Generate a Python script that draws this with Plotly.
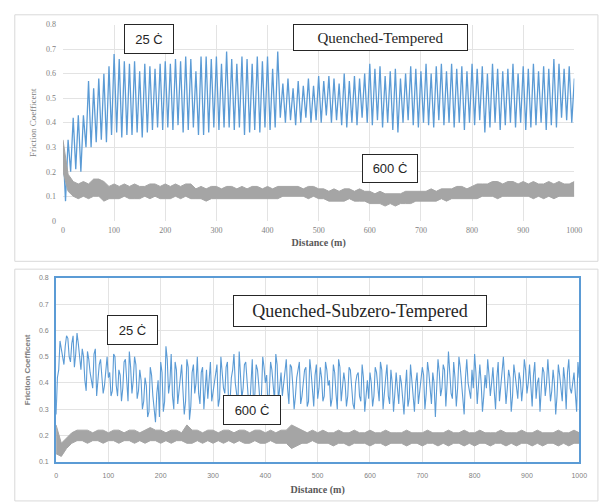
import plotly.graph_objects as go

W, H = 602, 502

# ---------------- data ----------------
# Quenched-Tempered, 25 C (values every 5 m, 0..1000)
qt25 = [0.30, 0.08, 0.33, 0.20, 0.42, 0.21, 0.43, 0.20, 0.43, 0.30,
        0.57, 0.30, 0.54, 0.32, 0.58, 0.33, 0.60, 0.32, 0.63, 0.35,
        0.68, 0.36, 0.66, 0.34, 0.65, 0.35, 0.64, 0.35, 0.65, 0.36,
        0.61, 0.34, 0.64, 0.36, 0.63, 0.37, 0.62, 0.38, 0.64, 0.37,
        0.65, 0.38, 0.64, 0.37, 0.66, 0.39, 0.65, 0.36, 0.67, 0.37,
        0.66, 0.38, 0.61, 0.35, 0.67, 0.35, 0.67, 0.36, 0.66, 0.38,
        0.67, 0.37, 0.64, 0.38, 0.69, 0.38, 0.66, 0.37, 0.64, 0.38,
        0.67, 0.35, 0.66, 0.36, 0.64, 0.37, 0.67, 0.36, 0.65, 0.38,
        0.67, 0.37, 0.62, 0.38, 0.69, 0.42, 0.56, 0.40, 0.58, 0.41,
        0.54, 0.39, 0.57, 0.40, 0.55, 0.42, 0.58, 0.40, 0.55, 0.41,
        0.59, 0.40, 0.57, 0.43, 0.59, 0.40, 0.58, 0.41, 0.56, 0.39,
        0.60, 0.38, 0.57, 0.40, 0.59, 0.39, 0.58, 0.42, 0.60, 0.40,
        0.64, 0.39, 0.62, 0.41, 0.63, 0.38, 0.59, 0.40, 0.61, 0.37,
        0.62, 0.36, 0.58, 0.40, 0.60, 0.41, 0.63, 0.39, 0.62, 0.38,
        0.61, 0.40, 0.64, 0.39, 0.60, 0.38, 0.63, 0.41, 0.64, 0.39,
        0.61, 0.40, 0.64, 0.38, 0.62, 0.40, 0.63, 0.37, 0.61, 0.40,
        0.64, 0.39, 0.62, 0.41, 0.63, 0.36, 0.60, 0.38, 0.64, 0.40,
        0.62, 0.37, 0.61, 0.39, 0.62, 0.40, 0.64, 0.38, 0.60, 0.40,
        0.63, 0.37, 0.62, 0.38, 0.64, 0.39, 0.61, 0.40, 0.63, 0.37,
        0.62, 0.39, 0.66, 0.38, 0.64, 0.42, 0.62, 0.41, 0.63, 0.40,
        0.58]
dist5 = [5 * i for i in range(len(qt25))]

# Quenched-Tempered, 600 C : band envelopes every 10 m
qt600_hi = [0.33, 0.19, 0.16, 0.15, 0.16, 0.15, 0.17, 0.17, 0.16, 0.14,
            0.15, 0.14, 0.15, 0.14, 0.15, 0.14, 0.14, 0.15, 0.15, 0.14,
            0.15, 0.14, 0.15, 0.14, 0.15, 0.15, 0.13, 0.14, 0.13, 0.14,
            0.14, 0.13, 0.14, 0.14, 0.13, 0.14, 0.13, 0.14, 0.14, 0.13,
            0.14, 0.13, 0.14, 0.14, 0.14, 0.14, 0.14, 0.13, 0.14, 0.14,
            0.13, 0.13, 0.12, 0.13, 0.12, 0.13, 0.13, 0.12, 0.13, 0.12,
            0.12, 0.11, 0.12, 0.11, 0.11, 0.11, 0.11, 0.12, 0.12, 0.12,
            0.12, 0.12, 0.13, 0.12, 0.13, 0.13, 0.13, 0.14, 0.14, 0.13,
            0.14, 0.15, 0.15, 0.15, 0.16, 0.16, 0.15, 0.16, 0.16, 0.15,
            0.16, 0.15, 0.16, 0.15, 0.15, 0.16, 0.15, 0.16, 0.15, 0.15,
            0.16]
qt600_lo = [0.20, 0.12, 0.10, 0.09, 0.10, 0.09, 0.10, 0.10, 0.08, 0.09,
            0.09, 0.09, 0.10, 0.09, 0.09, 0.09, 0.10, 0.09, 0.10, 0.09,
            0.09, 0.09, 0.10, 0.09, 0.10, 0.09, 0.09, 0.09, 0.08, 0.09,
            0.09, 0.09, 0.09, 0.09, 0.09, 0.09, 0.09, 0.09, 0.09, 0.09,
            0.09, 0.09, 0.09, 0.10, 0.10, 0.10, 0.10, 0.10, 0.09, 0.10,
            0.09, 0.09, 0.08, 0.08, 0.08, 0.08, 0.09, 0.08, 0.08, 0.08,
            0.07, 0.07, 0.07, 0.06, 0.07, 0.06, 0.07, 0.07, 0.07, 0.08,
            0.08, 0.08, 0.08, 0.08, 0.09, 0.08, 0.09, 0.09, 0.09, 0.09,
            0.09, 0.09, 0.10, 0.10, 0.10, 0.09, 0.10, 0.10, 0.10, 0.10,
            0.10, 0.10, 0.09, 0.10, 0.09, 0.10, 0.09, 0.10, 0.10, 0.10,
            0.10]
dist10 = [10 * i for i in range(len(qt600_hi))]

# Quenched-Subzero-Tempered, 25 C : readings at 0, 5, 10 ... 1000 m
qst25 = [0.28, 0.45, 0.53, 0.47, 0.58, 0.50, 0.55, 0.46, 0.59, 0.48, 0.53,
         0.41, 0.52, 0.44, 0.38, 0.53, 0.40, 0.49, 0.36, 0.46, 0.42,
         0.35, 0.51, 0.39, 0.45, 0.33, 0.48, 0.41, 0.52, 0.36, 0.50,
         0.34, 0.45, 0.30, 0.42, 0.27, 0.46, 0.35, 0.25, 0.41, 0.48,
         0.29, 0.54, 0.36, 0.51, 0.30, 0.45, 0.38, 0.47, 0.28, 0.49,
         0.26, 0.44, 0.36, 0.50, 0.32, 0.46, 0.39, 0.34, 0.48, 0.37,
         0.44, 0.31, 0.50, 0.38, 0.46, 0.30, 0.42, 0.51, 0.35, 0.52,
         0.34, 0.47, 0.39, 0.30, 0.49, 0.36, 0.45, 0.32, 0.50, 0.40,
         0.31, 0.48, 0.37, 0.51, 0.33, 0.44, 0.40, 0.49, 0.32, 0.46,
         0.30, 0.42, 0.48, 0.35, 0.45, 0.31, 0.49, 0.38, 0.43, 0.34,
         0.46, 0.33, 0.48, 0.39, 0.31, 0.47, 0.36, 0.49, 0.33, 0.44,
         0.31, 0.46, 0.37, 0.30, 0.43, 0.35, 0.47, 0.29, 0.41, 0.44,
         0.31, 0.46, 0.38, 0.48, 0.30, 0.42, 0.35, 0.45, 0.29, 0.44,
         0.32, 0.40, 0.28, 0.45, 0.34, 0.41, 0.29, 0.44, 0.36, 0.46,
         0.30, 0.48, 0.38, 0.44, 0.27, 0.49, 0.35, 0.47, 0.31, 0.52,
         0.36, 0.48, 0.31, 0.50, 0.40, 0.28, 0.49, 0.37, 0.45, 0.51,
         0.32, 0.47, 0.29, 0.43, 0.49, 0.35, 0.46, 0.30, 0.48, 0.38,
         0.50, 0.32, 0.45, 0.29, 0.47, 0.39, 0.44, 0.33, 0.49, 0.36,
         0.47, 0.31, 0.48, 0.40, 0.29, 0.46, 0.35, 0.49, 0.33, 0.45,
         0.28, 0.47, 0.39, 0.46, 0.30, 0.49, 0.36, 0.44, 0.29, 0.42]
# readings in between, at 2.5, 7.5 ... 997.5 m
qst25_mid = [0.42, 0.56, 0.49, 0.54, 0.57, 0.48, 0.58, 0.51, 0.55, 0.45,
             0.50, 0.37, 0.49, 0.41, 0.51, 0.35, 0.47, 0.43, 0.39, 0.50,
             0.44, 0.37, 0.50, 0.35, 0.43, 0.38, 0.49, 0.33, 0.46, 0.41,
             0.47, 0.37, 0.41, 0.33, 0.39, 0.29, 0.43, 0.31, 0.36, 0.27,
             0.44, 0.33, 0.49, 0.40, 0.35, 0.48, 0.32, 0.43, 0.37, 0.33,
             0.46, 0.31, 0.47, 0.40, 0.36, 0.44, 0.30, 0.45, 0.41, 0.33,
             0.40, 0.47, 0.34, 0.44, 0.36, 0.48, 0.33, 0.45, 0.40, 0.32,
             0.44, 0.38, 0.48, 0.34, 0.42, 0.31, 0.47, 0.39, 0.35, 0.46,
             0.43, 0.36, 0.45, 0.33, 0.47, 0.39, 0.35, 0.43, 0.38, 0.47,
             0.39, 0.35, 0.45, 0.32, 0.40, 0.46, 0.33, 0.44, 0.31, 0.47,
             0.38, 0.42, 0.35, 0.45, 0.41, 0.34, 0.44, 0.30, 0.46, 0.38,
             0.40, 0.35, 0.45, 0.32, 0.40, 0.44, 0.33, 0.42, 0.36, 0.34,
             0.40, 0.35, 0.44, 0.33, 0.45, 0.37, 0.47, 0.32, 0.40, 0.36,
             0.38, 0.43, 0.34, 0.38, 0.31, 0.47, 0.36, 0.40, 0.32, 0.41,
             0.43, 0.36, 0.44, 0.32, 0.40, 0.36, 0.44, 0.38, 0.45, 0.40,
             0.44, 0.34, 0.42, 0.38, 0.46, 0.33, 0.42, 0.40, 0.34, 0.38,
             0.44, 0.39, 0.40, 0.35, 0.38, 0.43, 0.40, 0.37, 0.42, 0.33,
             0.45, 0.41, 0.38, 0.42, 0.35, 0.43, 0.34, 0.41, 0.39, 0.45,
             0.40, 0.38, 0.43, 0.34, 0.42, 0.38, 0.44, 0.40, 0.41, 0.37,
             0.40, 0.35, 0.43, 0.33, 0.41, 0.44, 0.38, 0.40, 0.36, 0.48]
qst25_all = []
for a, b in zip(qst25, qst25_mid):
    qst25_all += [a, b]
qst25_all.append(qst25[-1])
dist2_5 = [2.5 * i for i in range(len(qst25_all))]

# Quenched-Subzero-Tempered, 600 C : band envelopes every 10 m
qst600_hi = [0.24, 0.17, 0.19, 0.21, 0.22, 0.22, 0.22, 0.21, 0.22, 0.22,
             0.21, 0.22, 0.22, 0.21, 0.22, 0.22, 0.21, 0.22, 0.23, 0.22,
             0.22, 0.21, 0.22, 0.22, 0.21, 0.24, 0.22, 0.22, 0.21, 0.22,
             0.22, 0.21, 0.22, 0.22, 0.21, 0.22, 0.22, 0.21, 0.22, 0.22,
             0.21, 0.22, 0.21, 0.22, 0.22, 0.24, 0.23, 0.22, 0.21, 0.22,
             0.21, 0.22, 0.21, 0.21, 0.22, 0.21, 0.21, 0.22, 0.21, 0.21,
             0.22, 0.21, 0.21, 0.22, 0.21, 0.21, 0.21, 0.22, 0.21, 0.21,
             0.21, 0.22, 0.21, 0.21, 0.21, 0.22, 0.21, 0.21, 0.22, 0.21,
             0.21, 0.22, 0.21, 0.21, 0.21, 0.22, 0.21, 0.21, 0.21, 0.22,
             0.21, 0.21, 0.22, 0.21, 0.21, 0.21, 0.22, 0.21, 0.21, 0.22,
             0.21]
qst600_lo = [0.13, 0.12, 0.15, 0.17, 0.18, 0.18, 0.17, 0.18, 0.18, 0.17,
             0.18, 0.18, 0.17, 0.18, 0.18, 0.17, 0.18, 0.17, 0.18, 0.18,
             0.17, 0.18, 0.17, 0.18, 0.18, 0.17, 0.17, 0.18, 0.17, 0.18,
             0.17, 0.18, 0.17, 0.18, 0.17, 0.18, 0.17, 0.17, 0.18, 0.17,
             0.17, 0.18, 0.17, 0.17, 0.17, 0.15, 0.16, 0.17, 0.17, 0.18,
             0.17, 0.17, 0.17, 0.16, 0.17, 0.17, 0.16, 0.17, 0.17, 0.17,
             0.16, 0.17, 0.17, 0.16, 0.17, 0.17, 0.17, 0.16, 0.17, 0.17,
             0.16, 0.17, 0.17, 0.16, 0.17, 0.16, 0.17, 0.17, 0.16, 0.17,
             0.16, 0.17, 0.17, 0.16, 0.17, 0.17, 0.16, 0.17, 0.16, 0.17,
             0.17, 0.16, 0.17, 0.16, 0.17, 0.17, 0.16, 0.17, 0.16, 0.17,
             0.17]

x_ticks = [0, 100, 200, 300, 400, 500, 600, 700, 800, 900, 1000]
y_ticks_top = [0, 0.1, 0.2, 0.3, 0.4, 0.5, 0.6, 0.7, 0.8]
y_ticks_bot = [0.1, 0.2, 0.3, 0.4, 0.5, 0.6, 0.7, 0.8]

BLUE = "#5b9bd5"
GRAY = "#a5a5a5"

fig = go.Figure()

# top panel
fig.add_trace(go.Scatter(x=dist5, y=qt25, mode="lines", line=dict(color=BLUE, width=1.3),
                         xaxis="x", yaxis="y", showlegend=False))
fig.add_trace(go.Scatter(x=dist10, y=qt600_lo, mode="lines", line=dict(color=GRAY, width=1),
                         xaxis="x", yaxis="y", showlegend=False))
fig.add_trace(go.Scatter(x=dist10, y=qt600_hi, mode="lines", line=dict(color=GRAY, width=1),
                         fill="tonexty", fillcolor=GRAY, xaxis="x", yaxis="y", showlegend=False))
# bottom panel
fig.add_trace(go.Scatter(x=dist2_5, y=qst25_all, mode="lines", line=dict(color=BLUE, width=1.1),
                         xaxis="x2", yaxis="y2", showlegend=False))
fig.add_trace(go.Scatter(x=dist10, y=qst600_lo, mode="lines", line=dict(color=GRAY, width=1),
                         xaxis="x2", yaxis="y2", showlegend=False))
fig.add_trace(go.Scatter(x=dist10, y=qst600_hi, mode="lines", line=dict(color=GRAY, width=1),
                         fill="tonexty", fillcolor=GRAY, xaxis="x2", yaxis="y2", showlegend=False))

def px(v):
    return v / W

def py(v):
    return 1 - v / H

serif = "Liberation Serif, Tinos, Times New Roman, DejaVu Serif, serif"
sans = "Liberation Sans, Arimo, Arial, DejaVu Sans, sans-serif"
tickc = "#7f7f7f"

fig.update_layout(
    width=W, height=H, margin=dict(l=0, r=0, t=0, b=0),
    paper_bgcolor="white", plot_bgcolor="white",
    xaxis=dict(domain=[px(62), px(582)], range=[0, 1000], tickvals=x_ticks,
               showgrid=True, gridcolor="#e3e3e3", zeroline=False, showline=False,
               tickfont=dict(family=serif, size=8, color=tickc), ticks="", anchor="y",
               ticklabelstandoff=3,
               title=dict(text="<b>Distance (m)</b>", font=dict(family=serif, size=10, color="#595959"),
                          standoff=5)),
    yaxis=dict(domain=[py(220.7), py(21)], range=[0, 0.8], tickvals=y_ticks_top,
               showgrid=True, gridcolor="#e3e3e3", zeroline=False, showline=False,
               tickfont=dict(family=serif, size=8, color=tickc), ticks="", anchor="x",
               ticklabelstandoff=6,
               title=dict(text="Friction Coefficent", font=dict(family=serif, size=9, color="#808080"),
                          standoff=7)),
    xaxis2=dict(domain=[px(55), px(587)], range=[0, 1000], tickvals=x_ticks,
                showgrid=True, gridcolor="#e3e3e3", zeroline=False,
                showline=True, linecolor=BLUE, linewidth=2, mirror=True,
                tickfont=dict(family=sans, size=7, color=tickc), ticks="", anchor="y2",
                ticklabelstandoff=6,
                title=dict(text="<b>Distance (m)</b>", font=dict(family=serif, size=10, color="#595959"),
                           standoff=8)),
    yaxis2=dict(domain=[py(466), py(279)], range=[0.1, 0.8], tickvals=y_ticks_bot,
                showgrid=True, gridcolor="#e3e3e3", zeroline=False,
                showline=True, linecolor=BLUE, linewidth=2, mirror=True,
                tickfont=dict(family=sans, size=7, color=tickc), ticks="", anchor="x2",
                ticklabelstandoff=4,
                title=dict(text="<b>Friction Coefficent</b>", font=dict(family=sans, size=8, color="#808080"),
                           standoff=7)),
)

# outer chart-area frames
fig.add_shape(type="rect", xref="paper", yref="paper", x0=px(13), x1=px(606), y0=py(262), y1=py(11),
              line=dict(color="#d9d9d9", width=1), fillcolor="rgba(0,0,0,0)", layer="below")
fig.add_shape(type="rect", xref="paper", yref="paper", x0=px(13), x1=px(606), y0=py(506), y1=py(270),
              line=dict(color="#d9d9d9", width=1), fillcolor="rgba(0,0,0,0)", layer="below")

def box(text, cx, cy, w, h, family, size):
    fig.add_annotation(text=text, xref="paper", yref="paper", x=px(cx), y=py(cy),
                       xanchor="center", yanchor="middle", showarrow=False,
                       width=w - 2, height=h - 2, borderpad=0,
                       bgcolor="white", bordercolor="#262626", borderwidth=1,
                       font=dict(family=family, size=size, color="#262626"))

box("25 Ċ", 149, 36, 50, 30, sans, 13)
box("Quenched-Tempered", 384.5, 34.5, 175, 27, serif, 15)
box("600 Ċ", 395, 167.5, 56, 29, sans, 13)
box("25 Ċ", 132.5, 332, 51, 30, sans, 13)
box("600 Ċ", 254, 413, 58, 30, sans, 13)
box("Quenched-Subzero-Tempered", 364, 313, 254, 32, serif, 18)

fig.write_html("out.html", config={"displayModeBar": False},
               post_script="document.body.style.margin='0px';")
